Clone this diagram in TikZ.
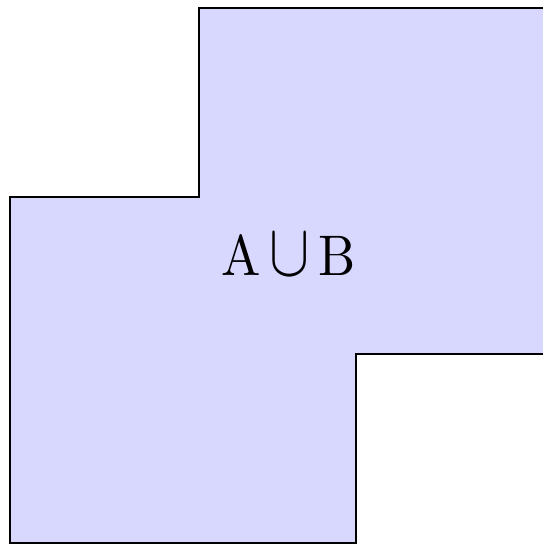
\documentclass[tikz,border=0pt]{standalone}
\usepackage{tikz}
\usetikzlibrary{positioning}
\definecolor{unionblue}{RGB}{216,216,255}
\newcommand{\bigunion}{\scalebox{1.15}[1.3]{$\cup$}}

\begin{document}
\begin{tikzpicture}[x=1cm,y=1cm,
 region/.style={fill=unionblue,draw=black,line width=1pt,line join=miter},
 lab/.style={font=\normalsize,inner sep=0pt,xscale=2.75,yscale=3}]
\useasboundingbox (0,0) rectangle (10,10.037);
\clip (0,0) rectangle (10,10.037);
% Union of the two squares, its right part runs past the frame.
\draw[region] (3.665,9.89) -- (10.3,9.89) -- (10.3,3.517) -- (6.556,3.517)
  -- (6.556,0.037) -- (0.184,0.037) -- (0.184,6.409) -- (3.665,6.409) -- cycle;
\node[lab,anchor=base] (union) at (5.322,4.954) {A\kern1.5pt\bigunion\kern1.8pt B};
\end{tikzpicture}
\end{document}
